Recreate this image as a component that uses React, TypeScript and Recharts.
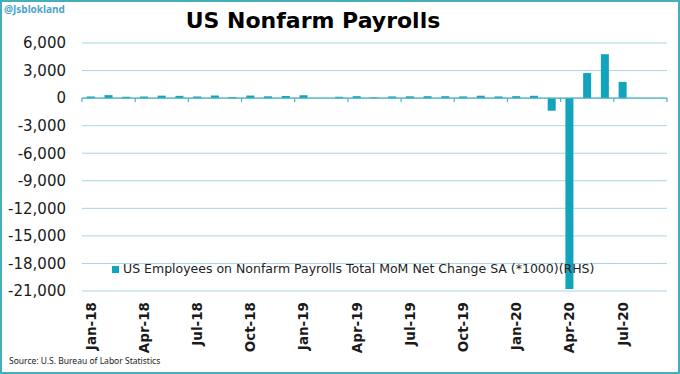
import { BarChart, Bar, XAxis, YAxis, CartesianGrid, ReferenceLine, Legend } from 'recharts'

const months = [
  'Jan-18', 'Feb-18', 'Mar-18', 'Apr-18', 'May-18', 'Jun-18', 'Jul-18', 'Aug-18', 'Sep-18', 'Oct-18', 'Nov-18', 'Dec-18',
  'Jan-19', 'Feb-19', 'Mar-19', 'Apr-19', 'May-19', 'Jun-19', 'Jul-19', 'Aug-19', 'Sep-19', 'Oct-19', 'Nov-19', 'Dec-19',
  'Jan-20', 'Feb-20', 'Mar-20', 'Apr-20', 'May-20', 'Jun-20', 'Jul-20', 'Aug-20', 'Sep-20',
]

// MoM net change, thousands
const payrolls: (number | null)[] = [
  176, 324, 155, 175, 268, 248, 178, 282, 108, 277, 196, 227,
  312, 1, 147, 210, 85, 182, 194, 207, 208, 185, 261, 184,
  214, 251, -1373, -20787, 2725, 4781, 1763, null, null,
]

const yTicks = [6000, 3000, 0, -3000, -6000, -9000, -12000, -15000, -18000, -21000]
const yMin = -21000
const yMax = 6000

const seriesName = 'US Employees on Nonfarm Payrolls Total MoM Net Change SA (*1000)(RHS)'

const rows = months.map((m, i) => ({ month: m, value: payrolls[i] }))

const W = 680
const H = 374
const M = { top: 43, right: 13, left: 0, bottom: 23 }
const Y_AXIS_W = 82
const X_AXIS_H = 60
const plotH = H - M.top - M.bottom - X_AXIS_H
const plotW = W - M.left - M.right - Y_AXIS_W
const zeroY = M.top + (plotH * yMax) / (yMax - yMin)

const TEAL = '#12a4bd'
const AXIS = '#4fb1c2'
const FONT = '"DejaVu Sans", Verdana, sans-serif'

// label at the bottom + a small mark on the zero line at the quarter boundary
const MonthTick = (props: any) => {
  const { x, y, payload, index } = props
  const half = payload?.offset || plotW / months.length / 2
  const start = x - half
  const last = payload.value === months[months.length - 3]
  return (
    <g>
      <line x1={start} y1={zeroY} x2={start} y2={zeroY + 4} stroke={AXIS} strokeWidth={1.2} />
      {last && (
        <line x1={start + 6 * half} y1={zeroY} x2={start + 6 * half} y2={zeroY + 4} stroke={AXIS} strokeWidth={1.2} />
      )}
      <g transform={`translate(${x},${y})`}>
        <text
          key={index}
          transform="rotate(-90)"
          textAnchor="end"
          dy="0.36em"
          fontSize={13.5}
          fontWeight="bold"
          fontFamily={FONT}
          fill="#1a1a1a"
        >
          {payload.value}
        </text>
      </g>
    </g>
  )
}

export default function App() {
  return (
    <div style={{ position: 'relative', width: W, height: H, background: '#fff', overflow: 'hidden' }}>
      <style>{'body{margin:0}'}</style>
      <BarChart width={W} height={H} data={rows} margin={M} barCategoryGap="27%">
        <CartesianGrid vertical={false} stroke="#a6d7e2" strokeWidth={1} />
        <XAxis
          dataKey="month"
          interval={2}
          axisLine={false}
          tickLine={false}
          tickSize={0}
          tickMargin={11}
          height={X_AXIS_H}
          tick={<MonthTick />}
        />
        <YAxis
          domain={[yMin, yMax]}
          ticks={yTicks}
          interval={0}
          width={Y_AXIS_W}
          axisLine={false}
          tickLine={false}
          tickSize={0}
          tickMargin={16}
          tickFormatter={(v: number) => v.toLocaleString('en-US')}
          tick={{ fontSize: 15, fontFamily: FONT, fill: '#1a1a1a' }}
        />
        <Bar dataKey="value" name={seriesName} fill={TEAL} isAnimationActive={false} />
        <ReferenceLine y={0} stroke={AXIS} strokeWidth={1.3} />
        <Legend
          layout="horizontal"
          verticalAlign="middle"
          align="center"
          iconType="square"
          iconSize={7}
          wrapperStyle={{ top: 261, left: 112, width: 'auto', fontFamily: FONT, fontSize: 12.5 }}
          formatter={(v: string) => <span style={{ color: '#222' }}>{v}</span>}
        />
      </BarChart>
      <div
        style={{
          position: 'absolute', left: 0, top: 8, width: 626, textAlign: 'center',
          fontFamily: FONT, fontWeight: 'bold', fontSize: 22, color: '#000', lineHeight: '26px',
        }}
      >
        US Nonfarm Payrolls
      </div>
      <div
        style={{
          position: 'absolute', left: 4, top: 2, fontFamily: '"Noto Sans", sans-serif',
          fontWeight: 'bold', fontSize: 10, color: '#4aa6cc',
        }}
      >
        @Jsblokland
      </div>
      <div
        style={{
          position: 'absolute', left: 9, top: 355, fontFamily: '"Noto Sans", sans-serif',
          fontSize: 8.5, color: '#222',
        }}
      >
        Source: U.S. Bureau of Labor Statistics
      </div>
      <div
        style={{
          position: 'absolute', inset: 0, border: '2px solid #45aebd', pointerEvents: 'none',
        }}
      />
    </div>
  )
}
